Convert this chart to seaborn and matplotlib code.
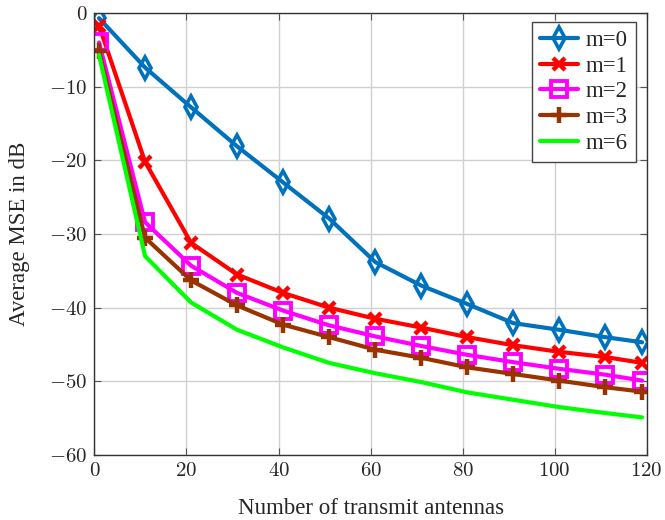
import matplotlib
matplotlib.use("Agg")
import matplotlib.pyplot as plt
from matplotlib.ticker import FuncFormatter
import seaborn as sns
import pandas as pd

# ---- data ----
antennas = [1, 11, 21, 31, 41, 51, 61, 71, 81, 91, 101, 111, 119]
mse_m0 = [-0.7, -7.4, -12.8, -18.1, -23.0, -27.9, -33.8, -37.0, -39.5, -42.1, -43.0, -44.0, -44.7]
mse_m1 = [-1.7, -20.2, -31.2, -35.5, -38.0, -40.0, -41.5, -42.7, -44.0, -45.1, -46.0, -46.7, -47.5]
mse_m2 = [-4.0, -28.4, -34.3, -38.0, -40.4, -42.4, -43.9, -45.2, -46.4, -47.4, -48.3, -49.1, -49.9]
mse_m3 = [-5.2, -30.5, -36.3, -39.7, -42.3, -44.0, -45.7, -46.8, -48.1, -49.0, -49.9, -50.8, -51.4]
mse_m6 = [-5.7, -33.0, -39.3, -43.0, -45.4, -47.5, -48.9, -50.1, -51.5, -52.5, -53.5, -54.3, -54.9]
labels = ["m=0", "m=1", "m=2", "m=3", "m=6"]
xticks = [0, 20, 40, 60, 80, 100, 120]
yticks = [0, -10, -20, -30, -40, -50, -60]

series = [mse_m0, mse_m1, mse_m2, mse_m3, mse_m6]
frames = []
for lab, vals in zip(labels, series):
    frames.append(pd.DataFrame({"antennas": antennas, "mse": vals, "m": lab}))
df = pd.concat(frames, ignore_index=True)

styles = {
    "m=0": dict(color="#0072BD", marker="d", markersize=11, mew=2.6, mfc="none"),
    "m=1": dict(color="#FF0000", marker="x", markersize=9, mew=3.2),
    "m=2": dict(color="#FF00FF", marker="s", markersize=12, mew=2.8, mfc="none"),
    "m=3": dict(color="#993300", marker="+", markersize=12, mew=3.2),
    "m=6": dict(color="#00FF00", marker=None),
}

sns.set_theme(style="whitegrid")
plt.rcParams["font.family"] = ["Liberation Serif", "DejaVu Serif"]
plt.rcParams["mathtext.fontset"] = "cm"

fig = plt.figure(figsize=(6.65, 5.2), dpi=100)
ax = fig.add_axes([0.142, 0.125, 0.8305, 0.85])

for lab in labels:
    st = styles[lab]
    sub = df[df["m"] == lab]
    kw = dict(linewidth=3, label=lab, color=st["color"])
    if st["marker"] is not None:
        kw.update(marker=st["marker"], markersize=st["markersize"],
                  markeredgewidth=st["mew"], markeredgecolor=st["color"])
        if "mfc" in st:
            kw["markerfacecolor"] = st["mfc"]
    sns.lineplot(data=sub, x="antennas", y="mse", ax=ax, **kw)

ax.set_xlim(0, 120)
ax.set_ylim(-60, 0)
ax.set_xticks(xticks)
ax.set_yticks(yticks)
fmt = FuncFormatter(lambda v, p: f"${int(round(v))}$")
ax.xaxis.set_major_formatter(fmt)
ax.yaxis.set_major_formatter(fmt)
ax.set_facecolor("white")
ax.grid(True, color="#d0d0d0", linewidth=1.0)
for s in ax.spines.values():
    s.set_color("#333333")
    s.set_linewidth(1.0)
    s.set_visible(True)
ax.tick_params(direction="in", length=5, width=0.8, color="#555555",
               labelsize=15, top=True, right=True, bottom=True, left=True, pad=5)
ax.set_xlabel("Number of transmit antennas", fontsize=16.5, labelpad=12)
ax.set_ylabel("Average MSE in dB", fontsize=16.5, labelpad=14)

leg = ax.legend(loc="upper right", fontsize=16.5, frameon=True, fancybox=False,
                handlelength=1.65, borderpad=0.35, labelspacing=0.2,
                handletextpad=0.35, borderaxespad=0.0,
                bbox_to_anchor=(0.9806, 0.9796))
leg.get_frame().set_edgecolor("#444444")
leg.get_frame().set_linewidth(1.0)
leg.get_frame().set_alpha(1.0)

fig.savefig("out.png", dpi=100)
